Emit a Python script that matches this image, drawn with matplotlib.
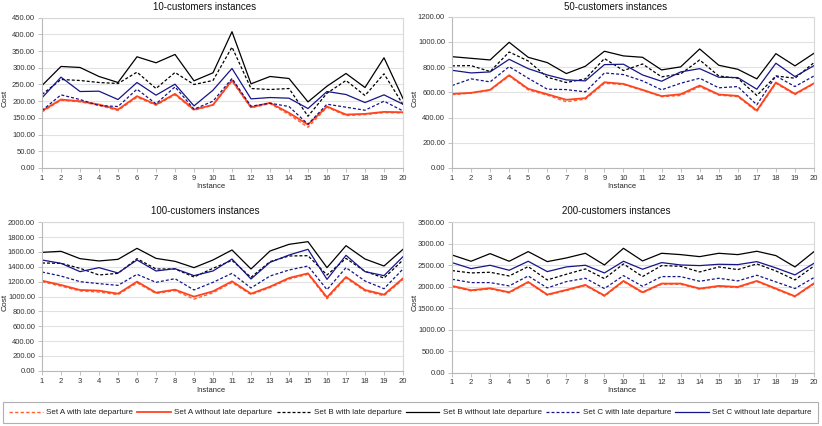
import matplotlib
matplotlib.use("Agg")
import matplotlib.pyplot as plt
from matplotlib.lines import Line2D
from matplotlib.patches import Rectangle

plt.rcParams['font.family'] = ['Liberation Sans', 'DejaVu Sans']

instances = list(range(1, 21))

series_labels = ["Set A with late departure", "Set A without late departure",
                 "Set B with late departure", "Set B without late departure",
                 "Set C with late departure", "Set C without late departure"]

# 10-customers
c10_A_with = [168, 203, 198, 188, 172, 212, 188, 219, 173, 188, 260, 180, 193, 160, 122, 182, 157, 160, 166, 165]
c10_A_without = [171, 205, 200, 190, 175, 215, 190, 222, 175, 189, 263, 182, 195, 165, 130, 184, 160, 162, 168, 167]
c10_B_with = [220, 265, 262, 256, 253, 287, 238, 286, 250, 262, 362, 238, 235, 238, 155, 224, 262, 217, 282, 190]
c10_B_without = [247, 304, 301, 274, 256, 333, 315, 340, 261, 285, 408, 252, 274, 268, 198, 245, 283, 241, 330, 208]
c10_C_with = [172, 219, 205, 187, 184, 236, 192, 243, 176, 200, 268, 185, 194, 184, 131, 191, 182, 173, 200, 171]
c10_C_without = [210, 272, 229, 230, 205, 256, 218, 251, 186, 233, 298, 207, 211, 209, 178, 229, 220, 196, 219, 191]

# 50-customers
c50_A_with = [582, 594, 616, 730, 620, 578, 525, 546, 672, 662, 616, 566, 575, 645, 578, 566, 448, 672, 582, 668]
c50_A_without = [588, 596, 620, 736, 628, 585, 541, 554, 680, 667, 620, 570, 585, 654, 583, 572, 456, 678, 588, 672]
c50_B_with = [810, 812, 765, 920, 849, 720, 678, 707, 868, 773, 825, 723, 746, 857, 730, 712, 575, 730, 712, 836]
c50_B_without = [883, 870, 857, 997, 878, 836, 749, 807, 926, 889, 878, 778, 802, 944, 815, 783, 707, 907, 810, 910]
c50_C_with = [654, 707, 683, 804, 712, 625, 622, 604, 754, 741, 691, 620, 672, 712, 636, 646, 501, 730, 646, 730]
c50_C_without = [775, 754, 762, 862, 788, 738, 699, 691, 820, 823, 738, 688, 762, 788, 720, 717, 625, 831, 725, 812]

# 100-customers
c100_A_with = [1200, 1140, 1075, 1060, 1025, 1185, 1040, 1080, 965, 1050, 1190, 1025, 1120, 1235, 1300, 970, 1250, 1075, 1010, 1230]
c100_A_without = [1213, 1155, 1088, 1079, 1038, 1200, 1052, 1092, 998, 1070, 1204, 1038, 1132, 1249, 1312, 989, 1263, 1088, 1025, 1245]
c100_B_with = [1452, 1447, 1380, 1290, 1312, 1510, 1371, 1371, 1263, 1380, 1487, 1258, 1470, 1546, 1550, 1290, 1514, 1339, 1249, 1492]
c100_B_without = [1595, 1609, 1510, 1479, 1501, 1649, 1514, 1474, 1389, 1492, 1627, 1371, 1613, 1703, 1739, 1389, 1685, 1505, 1411, 1636]
c100_C_with = [1330, 1276, 1200, 1173, 1150, 1299, 1191, 1240, 1088, 1191, 1312, 1115, 1276, 1357, 1411, 1092, 1389, 1209, 1105, 1371]
c100_C_without = [1492, 1447, 1335, 1389, 1317, 1492, 1344, 1375, 1281, 1344, 1505, 1236, 1460, 1559, 1636, 1231, 1555, 1335, 1281, 1537]

# 200-customers
c200_A_with = [2003, 1902, 1948, 1855, 2096, 1801, 1909, 2026, 1778, 2119, 1855, 2057, 2057, 1941, 2003, 1979, 2119, 1941, 1762, 2065]
c200_A_without = [2018, 1917, 1963, 1870, 2111, 1816, 1924, 2041, 1793, 2134, 1870, 2072, 2072, 1956, 2018, 1994, 2134, 1956, 1777, 2080]
c200_B_with = [2375, 2320, 2336, 2250, 2468, 2157, 2289, 2413, 2188, 2530, 2235, 2491, 2475, 2343, 2460, 2398, 2530, 2367, 2157, 2483]
c200_B_without = [2739, 2592, 2770, 2592, 2817, 2584, 2669, 2778, 2506, 2894, 2600, 2778, 2747, 2700, 2778, 2747, 2825, 2724, 2460, 2817]
c200_C_with = [2173, 2095, 2095, 2018, 2250, 1971, 2118, 2196, 1956, 2258, 2010, 2235, 2235, 2126, 2196, 2134, 2266, 2111, 1956, 2212]
c200_C_without = [2561, 2421, 2499, 2382, 2592, 2351, 2460, 2499, 2320, 2592, 2406, 2561, 2506, 2491, 2522, 2514, 2584, 2437, 2274, 2545]

titles = ["10-customers instances", "50-customers instances",
          "100-customers instances", "200-customers instances"]
ymax = [450, 1200, 2000, 3500]
ystep = [50, 200, 200, 500]

data = [
    [c10_A_with, c10_A_without, c10_B_with, c10_B_without, c10_C_with, c10_C_without],
    [c50_A_with, c50_A_without, c50_B_with, c50_B_without, c50_C_with, c50_C_without],
    [c100_A_with, c100_A_without, c100_B_with, c100_B_without, c100_C_with, c100_C_without],
    [c200_A_with, c200_A_without, c200_B_with, c200_B_without, c200_C_with, c200_C_without],
]

RED = "#ff4420"
RED_L = "#ff6030"
BLUE = "#15158a"
BLACK = "#000000"
styles = [
    dict(color=RED_L, ls=(0, (2.4, 1.6)), lw=1.0),
    dict(color=RED, ls='-', lw=1.3),
    dict(color=BLACK, ls=(0, (2.4, 1.6)), lw=0.9),
    dict(color=BLACK, ls='-', lw=0.9),
    dict(color=BLUE, ls=(0, (2.4, 1.6)), lw=0.9),
    dict(color=BLUE, ls='-', lw=0.9),
]

W, H = 822, 426
fig = plt.figure(figsize=(W / 100, H / 100), dpi=100)

# axes boxes in pixels: (left, top, right, bottom)
boxes = [(42, 17.7, 403, 168), (452, 16.7, 814, 168),
         (42, 222.3, 403, 370.7), (452, 222.3, 814, 372.5)]
regions = [(0, 410, 0), (410, 822, 0), (0, 410, 204), (410, 822, 204)]

for i in range(4):
    l, t, r, b = boxes[i]
    ax = fig.add_axes([l / W, 1 - b / H, (r - l) / W, (b - t) / H])
    for s, vals, lab in zip(styles, data[i], series_labels):
        ax.plot(instances, vals, label=lab, **s)
    ax.set_xlim(1, 20)
    ax.set_ylim(0, ymax[i])
    ax.set_xticks(instances)
    yt = list(range(0, ymax[i] + 1, ystep[i]))
    ax.set_yticks(yt)
    ax.set_yticklabels([f"{v:.2f}" for v in yt])
    ax.grid(axis='y', color='#e2e2e2', lw=0.8)
    ax.set_axisbelow(True)
    for sp in ax.spines.values():
        sp.set_color('#d8d8d8')
        sp.set_linewidth(0.8)
    ax.spines['left'].set_color('#b8b8b8')
    ax.spines['bottom'].set_color('#b8b8b8')
    ax.tick_params(axis='both', labelsize=5.5, colors='#b8b8b8', labelcolor='#333333',
                   length=3, width=0.6, pad=2)
    x0, x1, yoff = regions[i]
    cx = (x0 + x1) / 2
    fig.text(cx / W, 1 - (yoff + 7) / H, titles[i], ha='center', va='center',
             fontsize=7, color='#111111')
    fig.text((cx + 6) / W, 1 - (yoff + 187) / H, "Instance", ha='center', va='center',
             fontsize=5.5, color='#222222')
    fig.text((x0 + 5) / W, 1 - (yoff + 98) / H, "Cost", ha='center', va='center',
             rotation=90, fontsize=6, color='#222222')

# legend frame
fig.patches.append(Rectangle((3 / W, 1 - 423 / H), 815 / W, 21 / H,
                             transform=fig.transFigure, fill=False,
                             edgecolor='#b0b0b0', linewidth=0.8))

handles = [Line2D([0], [0], **s) for s in styles]
leg = fig.legend(handles, series_labels, loc='center', ncol=6,
                 bbox_to_anchor=(410.5 / W, 1 - 412.5 / H), fontsize=5.75,
                 handlelength=4.2, handletextpad=0.45, columnspacing=0.5,
                 frameon=False, borderpad=0.0, borderaxespad=0)
for txt in leg.get_texts():
    txt.set_color('#222222')

fig.savefig("out.png", dpi=100)
